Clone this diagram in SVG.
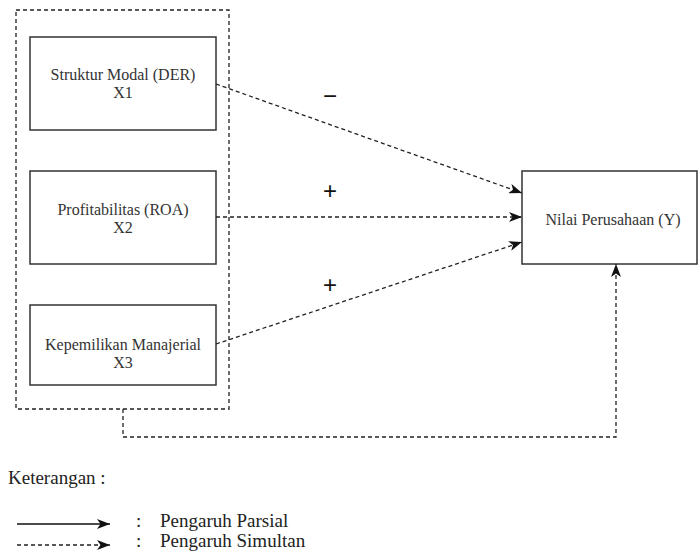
<svg xmlns="http://www.w3.org/2000/svg" width="699" height="552" viewBox="0 0 699 552">
<style>
.node{fill:#fff;stroke:#333;stroke-width:1.5}
.t{font-family:"Liberation Serif","Times New Roman","DejaVu Serif",serif;font-size:16px;fill:#333;text-anchor:middle}
.dash{fill:none;stroke:#222;stroke-width:1.3;stroke-dasharray:4 3}
.solid{fill:none;stroke:#111;stroke-width:1.5}
.sign{font-family:"Liberation Sans",sans-serif;font-size:24px;fill:#111;text-anchor:middle}
.leg{font-family:"Liberation Serif","Times New Roman","DejaVu Serif",serif;font-size:19px;fill:#222}
</style>
<defs>
<marker id="ah" viewBox="0 0 13 10" refX="13" refY="5" markerWidth="13" markerHeight="10" markerUnits="userSpaceOnUse" orient="auto">
<path d="M0,0 L13,5 L0,10 L3.5,5 Z" fill="#111"/>
</marker>
</defs>
<rect width="699" height="552" fill="#fff"/>
<g id="group-x">
<rect x="16" y="10" width="213" height="399" class="dash"/>
</g>
<g id="x1">
<rect x="30" y="37" width="186" height="93" class="node"/>
<text class="t" x="123" y="80">Struktur Modal (DER)</text>
<text class="t" x="123" y="98">X1</text>
</g>
<g id="x2">
<rect x="30" y="171" width="186" height="93" class="node"/>
<text class="t" x="123" y="215">Profitabilitas (ROA)</text>
<text class="t" x="123" y="233">X2</text>
</g>
<g id="x3">
<rect x="30" y="305" width="186" height="80" class="node"/>
<text class="t" x="123" y="350">Kepemilikan Manajerial</text>
<text class="t" x="123" y="368">X3</text>
</g>
<g id="y">
<rect x="522" y="171" width="175" height="93" class="node"/>
<text class="t" x="613" y="225">Nilai Perusahaan (Y)</text>
</g>
<g id="connectors">
<path class="dash" d="M216,84 L522,193" marker-end="url(#ah)"/>
<path class="dash" d="M216,217 L522,217" marker-end="url(#ah)"/>
<path class="dash" d="M216,344 L522,242" marker-end="url(#ah)"/>
<path class="dash" d="M123,409 L123,437 L616,437 L616,264" marker-end="url(#ah)"/>
</g>
<g id="signs">
<text class="sign" x="330" y="104">−</text>
<text class="sign" x="330" y="199">+</text>
<text class="sign" x="330" y="293">+</text>
</g>
<g id="legend">
<text class="leg" x="8" y="484">Keterangan :</text>
<path class="solid" d="M17,524 L110,524" marker-end="url(#ah)"/>
<path class="dash" d="M17,545 L110,545" marker-end="url(#ah)"/>
<text class="leg" x="136" y="527">:</text>
<text class="leg" x="136" y="547">:</text>
<text class="leg" x="160" y="527">Pengaruh Parsial</text>
<text class="leg" x="160" y="547">Pengaruh Simultan</text>
</g>
</svg>
